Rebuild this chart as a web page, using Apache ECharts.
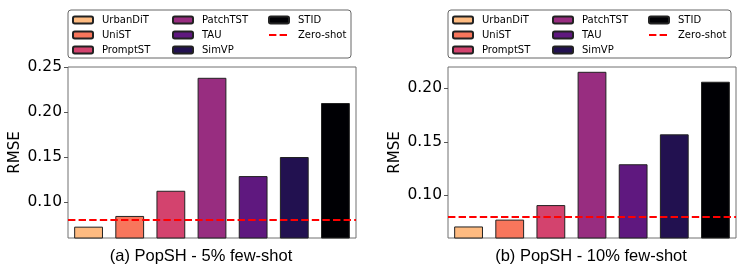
<!DOCTYPE html>
<html>
<head>
<meta charset="utf-8">
<script src="https://cdn.jsdelivr.net/npm/echarts@6/dist/echarts.min.js"></script>
<style>html,body{margin:0;padding:0;background:#fff;}#c{width:747px;height:269px;}</style>
</head>
<body>
<div id="c"></div>
<script>
const categories = ['UrbanDiT', 'UniST', 'PromptST', 'PatchTST', 'TAU', 'SimVP', 'STID'];
const rmse5 = [0.0726, 0.0845, 0.1125, 0.238, 0.1288, 0.150, 0.210];
const rmse10 = [0.0708, 0.0772, 0.0908, 0.2155, 0.1290, 0.157, 0.2062];
const zeroShot5 = 0.0808;
const zeroShot10 = 0.0810;
const ticks5 = [0.10, 0.15, 0.20, 0.25];
const ticks10 = [0.10, 0.15, 0.20];
const titles = ['(a) PopSH - 5% few-shot', '(b) PopSH - 10% few-shot'];
const colors = ['#febb81', '#f8765c', '#d3436e', '#982d80', '#5f187f', '#221150', '#000004'];

const chart = echarts.init(document.getElementById('c'), null, {renderer: 'canvas'});
const FONT = 'DejaVu Sans';
const grids = [
  {left: 68, top: 67, width: 288, height: 171, show: true, borderColor: '#707070', borderWidth: 1, backgroundColor: 'transparent'},
  {left: 448, top: 67, width: 288, height: 171, show: true, borderColor: '#707070', borderWidth: 1, backgroundColor: 'transparent'}
];
const values = [rmse5, rmse10];
const zs = [zeroShot5, zeroShot10];
const ranges = [[0.06, 0.25], [0.06, 0.22]];
const ticks = [ticks5, ticks10];
const dash = [7.4, 3.2];

const xAxis = [0, 1].map(g => ({
  type: 'category', gridIndex: g, data: categories, boundaryGap: true,
  axisLabel: {show: false}, axisTick: {show: false}, axisLine: {show: false}
}));
const yAxis = [0, 1].map(g => ({
  type: 'value', gridIndex: g, min: ranges[g][0], max: ranges[g][1],
  splitLine: {show: false},
  axisLine: {show: false},
  axisTick: {show: true, length: 4, lineStyle: {color: '#555'}, customValues: ticks[g]},
  axisLabel: {fontFamily: FONT, fontSize: 15.5, color: '#000', margin: 6,
    customValues: ticks[g], formatter: v => v.toFixed(2)},
  name: 'RMSE', nameLocation: 'middle', nameRotate: 90, nameGap: 45,
  nameTextStyle: {fontFamily: FONT, fontSize: 15, color: '#000'}
}));

const series = [];
categories.forEach((name, i) => {
  [0, 1].forEach(g => {
    series.push({
      type: 'bar', name: name, xAxisIndex: g, yAxisIndex: g, stack: 's' + g,
      barWidth: '70%',
      data: categories.map((c, j) => j === i ? values[g][j] : null),
      itemStyle: {color: colors[i], borderColor: '#222', borderWidth: 1},
      emphasis: {disabled: true}
    });
  });
});
[0, 1].forEach(g => {
  series.push({
    type: 'line', name: 'Zero-shot', xAxisIndex: g, yAxisIndex: g, data: [],
    symbol: 'none', itemStyle: {color: '#ff0000'},
    lineStyle: {color: '#ff0000', type: dash, width: 2},
    markLine: {silent: true, symbol: 'none', label: {show: false},
      lineStyle: {color: '#ff0000', type: dash, width: 2},
      data: [{yAxis: zs[g]}]}
  });
});

const cols = [['UrbanDiT', 'UniST', 'PromptST'], ['PatchTST', 'TAU', 'SimVP'], ['STID', 'Zero-shot']];
const colX = [72, 172, 268];
const legends = [];
[0, 380].forEach(off => {
  cols.forEach((d, k) => {
    legends.push({
      orient: 'vertical', left: colX[k] + off, top: 12.5,
      data: d.map(n => n === 'Zero-shot'
        ? {name: n, itemStyle: {opacity: 0}, lineStyle: {color: '#ff0000', type: dash, width: 2, opacity: 1}}
        : {name: n}),
      itemWidth: 20, itemHeight: 7, itemGap: 0, padding: 0,
      selectedMode: false,
      textStyle: {fontFamily: FONT, fontSize: 10, color: '#000', padding: [0, 0, 0, 4], lineHeight: 15}
    });
  });
});

chart.setOption({
  animation: false,
  grid: grids, xAxis: xAxis, yAxis: yAxis, series: series, legend: legends,
  graphic: [
    {type: 'rect', shape: {x: 68, y: 10, width: 283, height: 48, r: 3}, style: {fill: 'none', stroke: '#666', lineWidth: 1}, z: 100},
    {type: 'rect', shape: {x: 448, y: 10, width: 283, height: 48, r: 3}, style: {fill: 'none', stroke: '#666', lineWidth: 1}, z: 100},
    {type: 'text', x: 201, y: 256, style: {text: titles[0], fontFamily: 'Liberation Sans', fontSize: 16.5, fill: '#000', textAlign: 'center', textVerticalAlign: 'middle'}},
    {type: 'text', x: 591, y: 256, style: {text: titles[1], fontFamily: 'Liberation Sans', fontSize: 16.5, fill: '#000', textAlign: 'center', textVerticalAlign: 'middle'}}
  ]
});
</script>
</body>
</html>
